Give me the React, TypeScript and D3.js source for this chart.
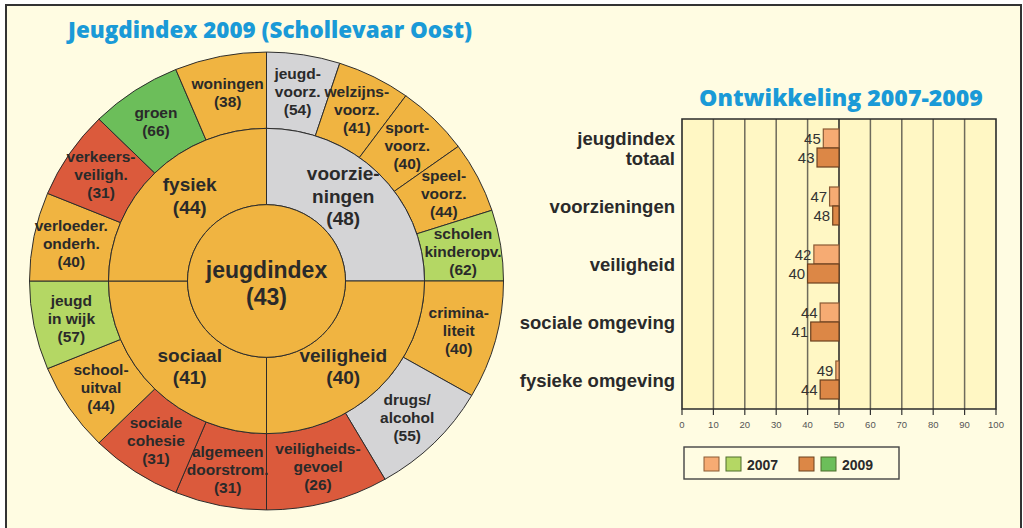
import React from 'react';
import * as d3 from 'd3';

// sunburst data (clockwise from the top)
const centerLabel = 'jeugdindex';
const centerValue = 43;
const domainLabels = [['voorzie-', 'ningen'], ['veiligheid'], ['sociaal'], ['fysiek']];
const domainValues = [48, 40, 41, 44];
const itemLabels = [
  [['jeugd-', 'voorz.'], ['welzijns-', 'voorz.'], ['sport-', 'voorz.'], ['speel-', 'voorz.'], ['scholen', 'kinderopv.']],
  [['crimina-', 'liteit'], ['drugs/', 'alcohol'], ['veiligheids-', 'gevoel']],
  [['algemeen', 'doorstrom.'], ['sociale', 'cohesie'], ['school-', 'uitval'], ['jeugd', 'in wijk']],
  [['verloeder.', 'onderh.'], ['verkeers-', 'veiligh.'], ['groen'], ['woningen']],
];
const itemValues = [
  [54, 41, 40, 44, 62],
  [40, 55, 26],
  [31, 31, 44, 57],
  [40, 31, 66, 38],
];

// bar chart data
const categories = ['jeugdindex totaal', 'voorzieningen', 'veiligheid', 'sociale omgeving', 'fysieke omgeving'];
const categoryLines = [['jeugdindex', 'totaal'], ['voorzieningen'], ['veiligheid'], ['sociale omgeving'], ['fysieke omgeving']];
const years = ['2007', '2009'];
const values2007 = [45, 47, 42, 44, 49];
const values2009 = [43, 48, 40, 41, 44];

const FONT = '"Liberation Sans", Arial, Helvetica, sans-serif';
const TITLE_FONT = '"Open Sans", "Liberation Sans", sans-serif';
const TEXT = '#2a2a2a';
const BLUE = '#1a9ad7';

const scoreColor = d3
  .scaleThreshold<number, string>()
  .domain([35, 46, 56, 65])
  .range(['#db5a3c', '#f0b441', '#d4d4d6', '#b4d764', '#6cbe5a']);

const barFill = ['#f6ab73', '#dc8746'];
const barStroke = ['#8a5a35', '#6a401f'];
const legendGreen = ['#b4d764', '#6cbe5a'];

function Lines({ x, y, lines, lh, size }: { x: number; y: number; lines: string[]; lh: number; size: number }) {
  const top = y - ((lines.length - 1) * lh) / 2 + size * 0.36;
  return (
    <text x={x} textAnchor="middle" fontFamily={FONT} fontWeight="bold" fontSize={size} fill={TEXT}>
      {lines.map((l, i) => (
        <tspan key={i} x={x} y={top + i * lh}>
          {l}
        </tspan>
      ))}
    </text>
  );
}

function Sunburst() {
  const cx = 266.5;
  const cy = 281;
  const sy = 0.966;
  const r0 = 79;
  const r1 = 158;
  const r2 = 237;

  const domainPie = d3.pie<number>().value(() => 1).sort(null)(domainValues);
  const arcMid = d3.arc<any>().innerRadius(r0).outerRadius(r1);
  const arcOut = d3.arc<any>().innerRadius(r1).outerRadius(r2);

  const pos = (a: number, r: number) => [cx + r * Math.sin(a), cy - r * Math.cos(a) * sy];

  const outer = domainPie.flatMap((d, i) =>
    d3
      .pie<number>()
      .value(() => 1)
      .sort(null)
      .startAngle(d.startAngle)
      .endAngle(d.endAngle)(itemValues[i])
      .map((s, j) => ({ ...s, label: itemLabels[i][j] }))
  );

  return (
    <g>
      <g transform={`translate(${cx},${cy}) scale(1,${sy})`} stroke="#2b2b2b" strokeWidth={1}>
        {outer.map((s, k) => (
          <path key={k} d={arcOut(s) as string} fill={scoreColor(s.data)} />
        ))}
        {domainPie.map((d, i) => (
          <path key={i} d={arcMid(d) as string} fill={scoreColor(d.data)} />
        ))}
        <circle r={r0} fill={scoreColor(centerValue)} />
      </g>
      {outer.map((s, k) => {
        const a = (s.startAngle + s.endAngle) / 2;
        const [x, y] = pos(a, 199);
        return <Lines key={k} x={x} y={y} lines={[...s.label, `(${s.data})`]} lh={18} size={15.5} />;
      })}
      {domainPie.map((d, i) => {
        let a = (d.startAngle + d.endAngle) / 2;
        a -= (4 * Math.PI) / 180 * Math.sign(Math.sin(a)) * Math.sign(Math.cos(a));
        const [x, y] = pos(a, 117);
        return <Lines key={i} x={x} y={y} lines={[...domainLabels[i], `(${d.data})`]} lh={22.5} size={19} />;
      })}
      <Lines x={cx} y={cy + 2} lines={[centerLabel, `(${centerValue})`]} lh={27} size={23} />
    </g>
  );
}

function Bars() {
  const x = d3.scaleLinear().domain([0, 100]).range([682, 996]);
  const y0 = d3.scaleBand<string>().domain(categories).range([119, 409]);
  const y1 = d3.scaleBand<string>().domain(years).range([0, y0.bandwidth()]).paddingOuter(0.526);
  const series = [values2007, values2009];
  const grid = x.ticks(10);

  return (
    <g>
      <rect x={x(0)} y={119} width={x(100) - x(0)} height={290} fill="#fff7c4" />
      {grid.slice(1, -1).map((t) => (
        <line key={t} x1={x(t)} x2={x(t)} y1={119} y2={409} stroke={t === 50 ? '#222' : '#6e6b5c'} strokeWidth={1.5} />
      ))}
      {categories.map((c, i) =>
        years.map((yr, j) => {
          const v = series[j][i];
          const yy = (y0(c) as number) + (y1(yr) as number);
          return (
            <g key={c + yr}>
              <rect
                x={x(Math.min(v, 50))}
                y={yy}
                width={Math.abs(x(50) - x(v))}
                height={y1.bandwidth()}
                fill={barFill[j]}
                stroke={barStroke[j]}
                strokeWidth={1.2}
              />
              <text
                x={x(v) - 2.5}
                y={yy + y1.bandwidth() / 2 + 5.3}
                textAnchor="end"
                fontFamily={FONT}
                fontSize={15}
                fill="#333"
              >
                {v}
              </text>
            </g>
          );
        })
      )}
      <path d={`M${x(0)},409 V119 H${x(100)} V409 Z`} fill="none" stroke="#2b2b2b" strokeWidth={1.6} />
      {grid.map((t) => (
        <g key={t}>
          <line x1={x(t)} x2={x(t)} y1={409} y2={415} stroke="#333" strokeWidth={1.2} />
          <text x={x(t)} y={427.5} textAnchor="middle" fontFamily={FONT} fontSize={9.5} fill="#555">
            {t}
          </text>
        </g>
      ))}
      {categories.map((c, i) => (
        <text
          key={c}
          textAnchor="end"
          fontFamily={FONT}
          fontWeight="bold"
          fontSize={18.5}
          fill={TEXT}
        >
          {categoryLines[i].map((l, k) => (
            <tspan
              key={k}
              x={675}
              y={(y0(c) as number) + y0.bandwidth() / 2 - ((categoryLines[i].length - 1) * 20) / 2 + 6.5 + k * 20}
            >
              {l}
            </tspan>
          ))}
        </text>
      ))}
      {/* legend */}
      <rect x={684} y={447} width={215} height={32} fill="none" stroke="#444" strokeWidth={1.4} />
      {years.map((yr, j) => {
        const lx = 704 + j * 95;
        return (
          <g key={yr}>
            <rect x={lx} y={457} width={15} height={14} fill={barFill[j]} stroke={barStroke[j]} strokeWidth={1} />
            <rect x={lx + 22} y={457} width={15} height={14} fill={legendGreen[j]} stroke="#4f6d2c" strokeWidth={1} />
            <text x={lx + 43} y={469.5} fontFamily={FONT} fontWeight="bold" fontSize={14} fill={TEXT}>
              {yr}
            </text>
          </g>
        );
      })}
    </g>
  );
}

export default function App() {
  return (
    <svg
      width={1023}
      height={528}
      style={{ position: 'absolute', left: 0, top: 0, display: 'block', background: '#fff' }}
    >
      <rect x={6} y={5} width={1015} height={540} fill="#fffce2" stroke="#333" strokeWidth={2} />
      <text x={270} y={38} textAnchor="middle" fontFamily={TITLE_FONT} fontWeight={800} fontSize={22.4} fill={BLUE}>
        Jeugdindex 2009 (Schollevaar Oost)
      </text>
      <text x={841} y={106} textAnchor="middle" fontFamily={TITLE_FONT} fontWeight={800} fontSize={23.1} fill={BLUE}>
        Ontwikkeling 2007-2009
      </text>
      <Sunburst />
      <Bars />
    </svg>
  );
}
